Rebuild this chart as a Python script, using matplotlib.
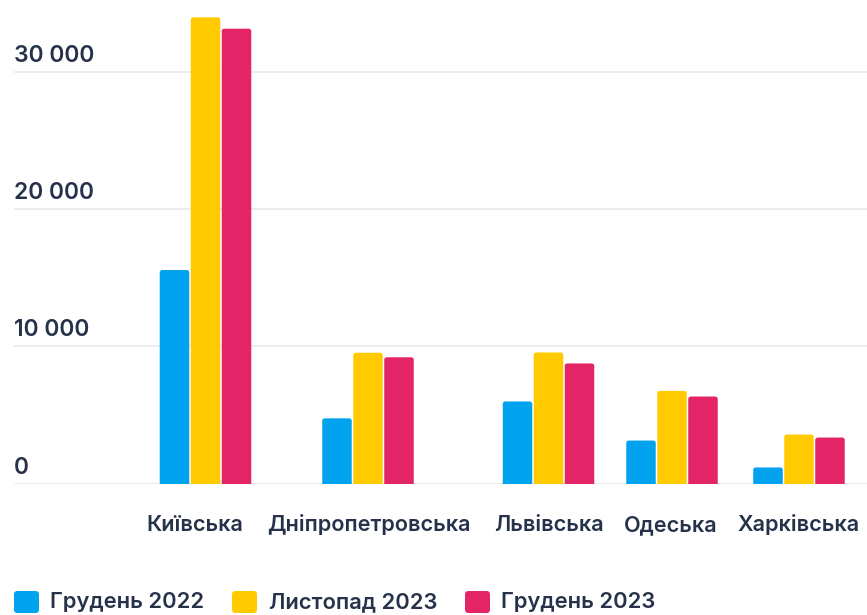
import matplotlib
matplotlib.use("Agg")
import matplotlib.pyplot as plt
from matplotlib.patches import FancyBboxPatch
import matplotlib.transforms as mtransforms

# Data
regions = ["Київська", "Дніпропетровська", "Львівська", "Одеська", "Харківська"]
series_names = ["Грудень 2022", "Листопад 2023", "Грудень 2023"]
dec_2022 = [15560, 4750, 5980, 3130, 1170]
nov_2023 = [33980, 9530, 9550, 6750, 3570]
dec_2023 = [33150, 9200, 8750, 6340, 3350]
y_ticks = [0, 10000, 20000, 30000]
y_tick_labels = ["0", "10 000", "20 000", "30 000"]

# Layout (pixel-based horizontal slots)
W, H = 867, 615
group_x = [205.5, 368, 548.5, 672, 799]
label_x = [195, 368.5, 548.5, 671, 799]
bar_step = 31
bar_w = 29.5
colors = ["#02A3EE", "#FFCB00", "#E32467"]
text_color = "#26324A"
grid_color = "#E9E9EC"

plt.rcParams["font.family"] = ["Inter", "DejaVu Sans"]

fig = plt.figure(figsize=(W / 100, H / 100), dpi=100)
zero_px = 483.5
px_per_unit = 137.2 / 10000
ymax = 35000
top_px = zero_px - ymax * px_per_unit
ax = fig.add_axes([14 / W, 1 - zero_px / H, 1 - 14 / W, (zero_px - top_px) / H])
ax.set_xlim(14, W)
ax.set_ylim(0, ymax)
ax.axis("off")

# Gridlines
for t in y_ticks:
    ax.axhline(t, color=grid_color, lw=1.2, zorder=0)

# Tick labels sit above their gridline
off = mtransforms.ScaledTranslation(0, 10 / 100, fig.dpi_scale_trans)
for t, lab in zip(y_ticks, y_tick_labels):
    ax.text(0, t, lab, transform=ax.get_yaxis_transform() + off,
            ha="left", va="baseline", fontsize=16.5, fontweight="semibold",
            color=text_color)

# Bars with softly rounded tops
aspect = 1 / px_per_unit
for i, (vals, c) in enumerate(zip([dec_2022, nov_2023, dec_2023], colors)):
    xs = [g + (i - 1) * bar_step for g in group_x]
    bars = ax.bar(xs, vals, width=bar_w, color=c, zorder=2)
    for rect in bars:
        x0, w, h = rect.get_x(), rect.get_width(), rect.get_height()
        rect.set_visible(False)
        p = FancyBboxPatch((x0, -600), w, h + 600,
                           boxstyle="round,pad=0,rounding_size=2.5",
                           mutation_aspect=aspect, facecolor=c,
                           edgecolor="none", zorder=2, clip_on=True)
        ax.add_patch(p)

# Category labels
for x, name in zip(label_x, regions):
    fig.text(x / W, 1 - 531 / H, name, ha="center", va="baseline",
             fontsize=15.6, fontweight="semibold", color=text_color)

# Legend
legend_items = [(14, 50), (232, 269), (465, 501)]
for (sx, tx), name, c in zip(legend_items, series_names, colors):
    sq = FancyBboxPatch((sx / W, 1 - 613 / H), 25 / W, 22 / H,
                        boxstyle="round,pad=0,rounding_size=0.004",
                        transform=fig.transFigure, facecolor=c,
                        edgecolor="none", mutation_aspect=W / H)
    fig.patches.append(sq)
    fig.text(tx / W, 1 - 608 / H, name, ha="left", va="baseline",
             fontsize=15.8, fontweight="semibold", color=text_color)

fig.savefig("out.png", dpi=100)
